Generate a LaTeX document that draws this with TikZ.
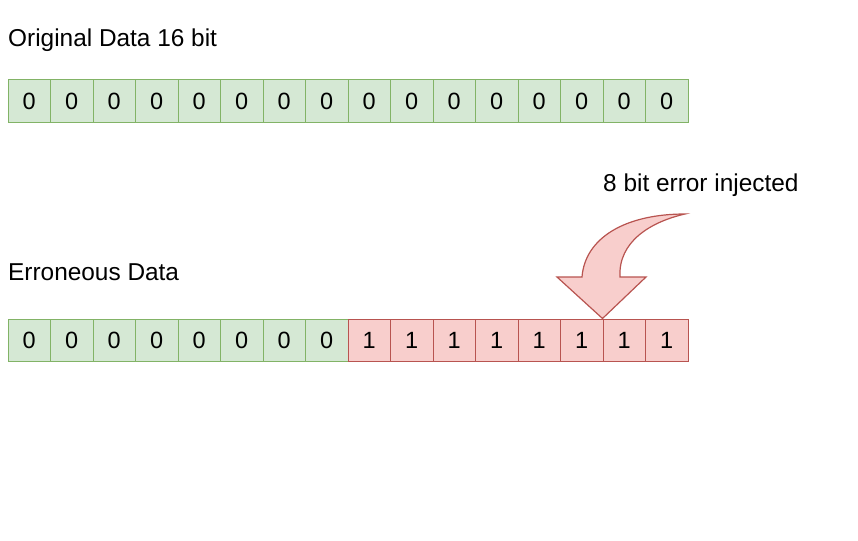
\documentclass[tikz,border=0pt]{standalone}
\usepackage{fontspec}
\setmainfont{Liberation Sans}
\definecolor{gfill}{HTML}{D5E8D4}
\definecolor{gline}{HTML}{82B366}
\definecolor{rfill}{HTML}{F8CECC}
\definecolor{rline}{HTML}{B85450}
\begin{document}
\begin{tikzpicture}[x=1pt,y=-1pt,
  cellbox/.style={draw, line width=1pt, minimum width=42.5pt, minimum height=42.5pt, inner sep=0pt, anchor=north west, font=\fontsize{23.5}{26}\selectfont},
  gcell/.style={cellbox, fill=gfill, draw=gline},
  rcell/.style={cellbox, fill=rfill, draw=rline},
  lbl/.style={font=\fontsize{24.4}{27}\selectfont, inner sep=0pt}]
\useasboundingbox (0,0) rectangle (858,540);
\node[lbl, anchor=west] (t1) at (8,40) {Original Data 16 bit};
\node[lbl, anchor=west] (t2) at (8,272) {Erroneous Data};
\node[lbl, anchor=west] (t3) at (603,185) {8 bit error injected};
\foreach \i in {0,...,15}{
  \node[gcell] (a\i) at ({7.5+42.5*\i},79.5) {0};
}
\foreach \i in {0,...,7}{
  \node[gcell] (b\i) at ({7.5+42.5*\i},318.5) {0};
}
\foreach \i in {8,...,15}{
  \node[rcell] (b\i) at ({7.5+42.5*\i},318.5) {1};
}
\coordinate (tip) at (b14.north west);
\draw[line width=1.2pt, draw=rline, fill=rfill, line join=miter]
  (tip) -- (557,277) -- (582,277)
  .. controls (585,238) and (625,214) .. (685,214)
  .. controls (650,222) and (618,242) .. (620,277)
  -- (646,277) -- cycle;
\end{tikzpicture}
\end{document}
